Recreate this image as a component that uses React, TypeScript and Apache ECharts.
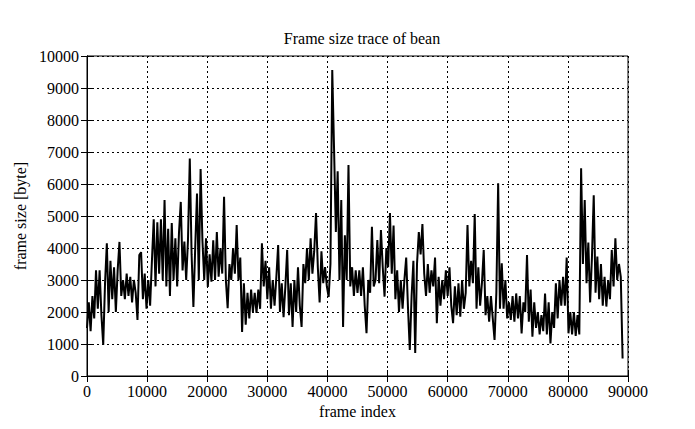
import React, { useEffect, useRef } from "react";
import * as echarts from "echarts";

const TITLE = "Frame size trace of bean";
const X_NAME = "frame index";
const Y_NAME = "frame size [byte]";
const X_MIN = 0;
const X_MAX = 90000;
const X_INTERVAL = 10000;
const Y_MIN = 0;
const Y_MAX = 10000;
const Y_INTERVAL = 1000;

// one sample every FRAME_STEP frames
const FRAME_STEP = 300;
const FRAME_SIZES = [
  1500, 2300, 1400, 2500, 1800, 3300, 2100, 3300, 1900, 970,
  2900, 4150, 2000, 3600, 2400, 3400, 2000, 3300, 4190, 2500,
  3000, 2400, 3200, 2500, 3100, 2300, 3000, 2600, 1750, 3780,
  3870, 2400, 3200, 2100, 3000, 2200, 3600, 4900, 2800, 4800,
  3200, 4900, 3000, 5500, 2800, 4600, 2500, 4780, 3000, 4300,
  2800, 4470, 5440, 3300, 4200, 3000, 4250, 6800, 3800, 2160,
  4000, 5700, 3000, 6470, 4250, 3000, 4300, 2780, 3800, 2950,
  4240, 3000, 4500, 3100, 4000, 3200, 5600, 3000, 2120, 3500,
  3000, 4000, 3200, 4720, 3000, 3700, 1375, 2900, 1600, 2600,
  1800, 2700, 2000, 2600, 1970, 2700, 2100, 4150, 2800, 3600,
  2400, 3400, 2100, 3000, 2200, 3090, 4090, 2000, 2900, 1840,
  2800, 3940, 1900, 2900, 1530, 3000, 2000, 3400, 2200, 1530,
  3500, 2900, 4000, 3000, 4300, 3200, 3900, 5090, 3400, 2300,
  3900, 2900, 3400, 2800, 2470, 3500, 9560, 7100, 4500, 6400,
  3000, 5500, 1530, 4400, 3000, 6590, 2800, 3400, 2500, 3300,
  2600, 3300, 2500, 3400, 2200, 1340, 3000, 2600, 4660, 2800,
  3000, 4250, 2900, 4560, 3400, 2480, 4000, 3400, 5090, 3200,
  4700, 2400, 3300, 2000, 3000, 2100, 3000, 3700, 2130, 810,
  2500, 3600, 720, 3500, 4500, 3800, 4750, 3200, 2500, 3500,
  2600, 3300, 2800, 3700, 1650, 3100, 2200, 3000, 2400, 3300,
  2500, 3400, 2200, 1650, 2800, 1900, 2900, 1850, 3000, 2100,
  2600, 4720, 2800, 3600, 2900, 5060, 2100, 3400, 2200, 2900,
  3940, 1900, 2500, 1700, 2500, 1800, 1125, 2600, 6020, 2100,
  3520, 2100, 3000, 1800, 2300, 1750, 2500, 1700, 2580, 1800,
  2500, 1333, 2300, 2000, 3780, 1700, 2700, 1230, 2300, 1500,
  2000, 1300, 1900, 1400, 2580, 1300, 2300, 1020, 2000, 1500,
  2900, 1800, 3000, 2200, 3100, 2200, 3700, 1333, 2000, 1300,
  2000, 1250, 1900, 1300, 6490, 3500, 5500, 2900, 4170, 2300,
  3700, 5650, 2600, 3730, 2400, 3500, 2200, 3100, 2170, 3000,
  2400, 3940, 2800, 4300, 3000, 3500, 3100, 550,
];

const FONT = "Liberation Serif";

export default function App() {
  const ref = useRef<HTMLDivElement>(null);

  useEffect(() => {
    if (!ref.current) return;
    const chart = echarts.init(ref.current, undefined, { renderer: "svg" });
    const data = FRAME_SIZES.map((v, i) => [i * FRAME_STEP, v]);
    const textStyle = { fontFamily: FONT, fontSize: 16, color: "#000" };
    const dotted = { color: "#000", width: 1, type: [2, 3] as number[] };
    const tick = { show: true, inside: true, length: 6, lineStyle: { color: "#000", width: 1 } };
    const plain = (v: number) => String(v);

    chart.setOption({
      animation: false,
      backgroundColor: "#fff",
      textStyle: { fontFamily: FONT },
      title: {
        text: TITLE,
        left: 357,
        textAlign: "center",
        top: 25,
        textStyle: { ...textStyle, fontWeight: "normal" },
      },
      grid: {
        left: 87,
        right: 67,
        top: 56,
        bottom: 53,
        show: true,
        borderColor: "#000",
        borderWidth: 1,
        backgroundColor: "transparent",
      },
      xAxis: [
        {
          type: "value",
          min: X_MIN,
          max: X_MAX,
          interval: X_INTERVAL,
          name: X_NAME,
          nameLocation: "middle",
          nameGap: 26,
          nameTextStyle: textStyle,
          axisLine: { show: true, lineStyle: { color: "#000", width: 1 } },
          axisTick: tick,
          axisLabel: { ...textStyle, margin: 7, formatter: plain },
          splitLine: { show: true, lineStyle: dotted },
        },
        {
          type: "value",
          position: "top",
          min: X_MIN,
          max: X_MAX,
          interval: X_INTERVAL,
          axisLine: { show: true, lineStyle: { color: "#000", width: 1 } },
          axisTick: tick,
          axisLabel: { show: false },
          splitLine: { show: false },
        },
      ],
      yAxis: [
        {
          type: "value",
          min: Y_MIN,
          max: Y_MAX,
          interval: Y_INTERVAL,
          name: Y_NAME,
          nameLocation: "middle",
          nameGap: 58,
          nameRotate: 90,
          nameTextStyle: textStyle,
          axisLine: { show: true, lineStyle: { color: "#000", width: 1 } },
          axisTick: tick,
          axisLabel: { ...textStyle, margin: 8, formatter: plain },
          splitLine: { show: true, lineStyle: dotted },
        },
        {
          type: "value",
          position: "right",
          min: Y_MIN,
          max: Y_MAX,
          interval: Y_INTERVAL,
          axisLine: { show: true, lineStyle: { color: "#000", width: 1 } },
          axisTick: tick,
          axisLabel: { show: false },
          splitLine: { show: false },
        },
      ],
      series: [
        {
          type: "line",
          data,
          xAxisIndex: 0,
          yAxisIndex: 0,
          showSymbol: false,
          symbol: "none",
          lineStyle: { color: "#000", width: 2 },
          z: 3,
        },
      ],
    });

    return () => chart.dispose();
  }, []);

  return (
    <div
      ref={ref}
      style={{ position: "fixed", left: 0, top: 0, width: 695, height: 429, background: "#fff" }}
    />
  );
}
